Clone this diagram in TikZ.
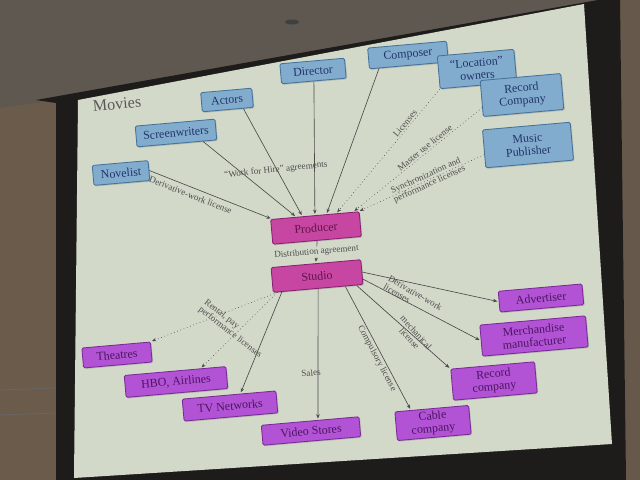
\documentclass[tikz,border=0pt]{standalone}
\usepackage{fontspec}
\setmainfont{Liberation Serif}
\usetikzlibrary{calc,arrows.meta,shadows}
\definecolor{ceil}{HTML}{5E5851}
\definecolor{wallc}{HTML}{6B5B4A}
\definecolor{wallR}{HTML}{66584B}
\definecolor{framec}{HTML}{1E1C1B}
\definecolor{screenc}{HTML}{D2D9C9}
\definecolor{blueF}{HTML}{82ACCD}
\definecolor{blueD}{HTML}{44729A}
\definecolor{blueT}{HTML}{22336A}
\definecolor{pinkF}{HTML}{C646A2}
\definecolor{pinkD}{HTML}{8A2070}
\definecolor{pinkT}{HTML}{5E1448}
\definecolor{purpF}{HTML}{B252D4}
\definecolor{purpD}{HTML}{7A2A98}
\definecolor{purpT}{HTML}{4A1660}
\definecolor{linec}{HTML}{4A4A4A}
\definecolor{labc}{HTML}{4E4E4E}
\begin{document}
\begin{tikzpicture}[x=0.025cm,y=-0.025cm,
  box/.style={draw, line width=0.6pt, rotate=5, inner sep=1pt, align=center, rounded corners=1pt,
    font=\fontsize{8.5}{9}\selectfont,
    drop shadow={shadow xshift=0.8pt,shadow yshift=-0.8pt,opacity=0.35}},
  bluebox/.style={box, fill=blueF, draw=blueD, text=blueT},
  pinkbox/.style={box, fill=pinkF, draw=pinkD, text=pinkT},
  purpbox/.style={box, fill=purpF, draw=purpD, text=purpT},
  conn/.style={draw=linec, line width=0.45pt, shorten >=1pt, -{Stealth[length=3pt,width=2.5pt]}},
  dconn/.style={conn, dotted},
  lab/.style={font=\fontsize{6.5}{6.5}\selectfont, text=labc, inner sep=1pt, align=center},
]
\useasboundingbox (0,0) rectangle (640,480);
% room and screen
\fill[ceil] (0,0) rectangle (640,480);
\fill[wallc] (0,108) -- (56,100) -- (56,480) -- (0,480) -- cycle;
\draw[black!60, line width=0.6pt] (0,390) -- (56,388) (0,415) -- (56,413);
\fill[wallR] (618,0) -- (640,0) -- (640,480) -- (624,480) -- cycle;
\fill[framec] (36,100) -- (598,0) -- (620,0) -- (626,480) -- (56,480) -- (56,103) -- cycle;
\fill[screenc] (78,100) -- (584,4) -- (612,444) -- (74,478) -- cycle;
\fill[black!75] (292,22) ellipse (7 and 2.5);

% title
\node[font=\fontsize{11.5}{12}\selectfont, text=black!65, rotate=5] (title) at (117,104) {Movies};

% top nodes
\node[bluebox, minimum width=1.40cm, minimum height=0.5cm] (nov) at (121,173) {Novelist};
\node[bluebox, minimum width=2.00cm, minimum height=0.52cm] (scr) at (176,133) {Screenwriters};
\node[bluebox, minimum width=1.28cm, minimum height=0.48cm] (act) at (227,100) {Actors};
\node[bluebox, minimum width=1.62cm, minimum height=0.5cm] (dir) at (313,71) {Director};
\node[bluebox, minimum width=1.98cm, minimum height=0.52cm] (comp) at (408,55) {Composer};
\node[bluebox, minimum width=1.92cm, minimum height=0.82cm] (loc) at (477,69) {``Location''\\owners};
\node[bluebox, minimum width=2.02cm, minimum height=0.9cm] (rec) at (522,95) {Record\\Company};
\node[bluebox, minimum width=2.2cm, minimum height=0.95cm] (mus) at (528,145) {Music\\Publisher};

% center nodes
\node[pinkbox, minimum width=2.22cm, minimum height=0.62cm] (prod) at (316,228) {Producer};
\node[pinkbox, minimum width=2.25cm, minimum height=0.62cm] (stud) at (317,276) {Studio};

% bottom nodes
\node[purpbox, minimum width=1.72cm, minimum height=0.5cm] (th) at (117,355) {Theatres};
\node[purpbox, minimum width=2.55cm, minimum height=0.55cm] (hbo) at (176,382) {HBO, Airlines};
\node[purpbox, minimum width=2.35cm, minimum height=0.55cm] (tv) at (230,406) {TV Networks};
\node[purpbox, minimum width=2.45cm, minimum height=0.5cm] (vid) at (311,431) {Video Stores};
\node[purpbox, minimum width=1.85cm, minimum height=0.72cm] (cab) at (433,423) {Cable\\company};
\node[purpbox, minimum width=2.1cm, minimum height=0.78cm] (rco) at (494,381) {Record\\company};
\node[purpbox, minimum width=2.65cm, minimum height=0.78cm] (mer) at (534,336) {Merchandise\\manufacturer};
\node[purpbox, minimum width=2.1cm, minimum height=0.52cm] (adv) at (541,298) {Advertiser};

% targets on the producer
\coordinate (p1) at ($(prod.north west)!0.02!(prod.north east)$);
\coordinate (p2) at ($(prod.north west)!0.29!(prod.north east)$);
\coordinate (p3) at ($(prod.north west)!0.36!(prod.north east)$);
\coordinate (p4) at ($(prod.north west)!0.50!(prod.north east)$);
\coordinate (p5) at ($(prod.north west)!0.63!(prod.north east)$);
\coordinate (p6) at ($(prod.north west)!0.74!(prod.north east)$);
\coordinate (p7) at ($(prod.north west)!0.93!(prod.north east)$);
\coordinate (p8) at ($(prod.north west)!0.99!(prod.north east)$);

% incoming connectors
\draw[conn] (nov.east) -- node[lab, sloped, below=2pt, pos=0.36] (l1) {Derivative-work license} (p1);
\draw[conn] ($(scr.south)!0.65!(scr.south east)$) -- (p2);
\draw[conn] ($(act.south)!0.6!(act.south east)$) -- (p3);
\draw[conn] (dir.south) -- (p4);
\draw[conn] ($(comp.south west)!0.25!(comp.south)$) -- (p5);
\draw[dconn] (loc.south west) -- node[lab, sloped, above, pos=0.3] (l2) {Licenses} (p6);
\draw[dconn] ($(rec.west)!0.5!(rec.south west)$) -- node[lab, sloped, above, pos=0.42] (l3) {Master use license} (p7);
\draw[dconn] ($(mus.west)!0.3!(mus.south west)$) -- node[lab, sloped, pos=0.45] (l4) {Synchronization and\\performance licenses} (p8);
\node[lab, rotate=6] (wfh) at (276,170) {``Work for Hire'' agreements};

% producer to studio
\draw[conn] (prod.south) -- node[lab, fill=screenc, rotate=5] (l5) {Distribution agreement} (stud.north);

% outgoing connectors
\coordinate (s1) at ($(stud.south west)!0.05!(stud.south east)$);
\coordinate (s2) at ($(stud.south west)!0.1!(stud.south east)$);
\draw[dconn] (s1) -- (th.north east);
\draw[dconn] (s1) -- ($(hbo.north west)!0.75!(hbo.north east)$);
\draw[conn] (s2) -- ($(tv.north west)!0.62!(tv.north east)$);
\draw[conn] (stud.south) -- ($(vid.north west)!0.58!(vid.north east)$);
\node[lab, rotate=5] (l6) at (311,373) {Sales};
\draw[conn] ($(stud.south)!0.6!(stud.south east)$) -- node[lab, sloped, below, pos=0.56] (l7) {Compulsory license} ($(cab.north west)!0.22!(cab.north east)$);
\draw[conn] ($(stud.south)!0.85!(stud.south east)$) -- node[lab, rotate=-48, pos=0.6] (l8) {mechanical\\license} (rco.north west);
\draw[conn] ($(stud.east)!0.55!(stud.south east)$) -- (mer.west);
\draw[conn] (stud.east) -- (adv.west);
\node[lab, rotate=-30, align=left] (l9) at (413,297) {Derivative-work\\licenses};
\node[lab, rotate=-38, align=left] (l10) at (233,329) {Rental, pay\\performance licenses};
\end{tikzpicture}
\end{document}
